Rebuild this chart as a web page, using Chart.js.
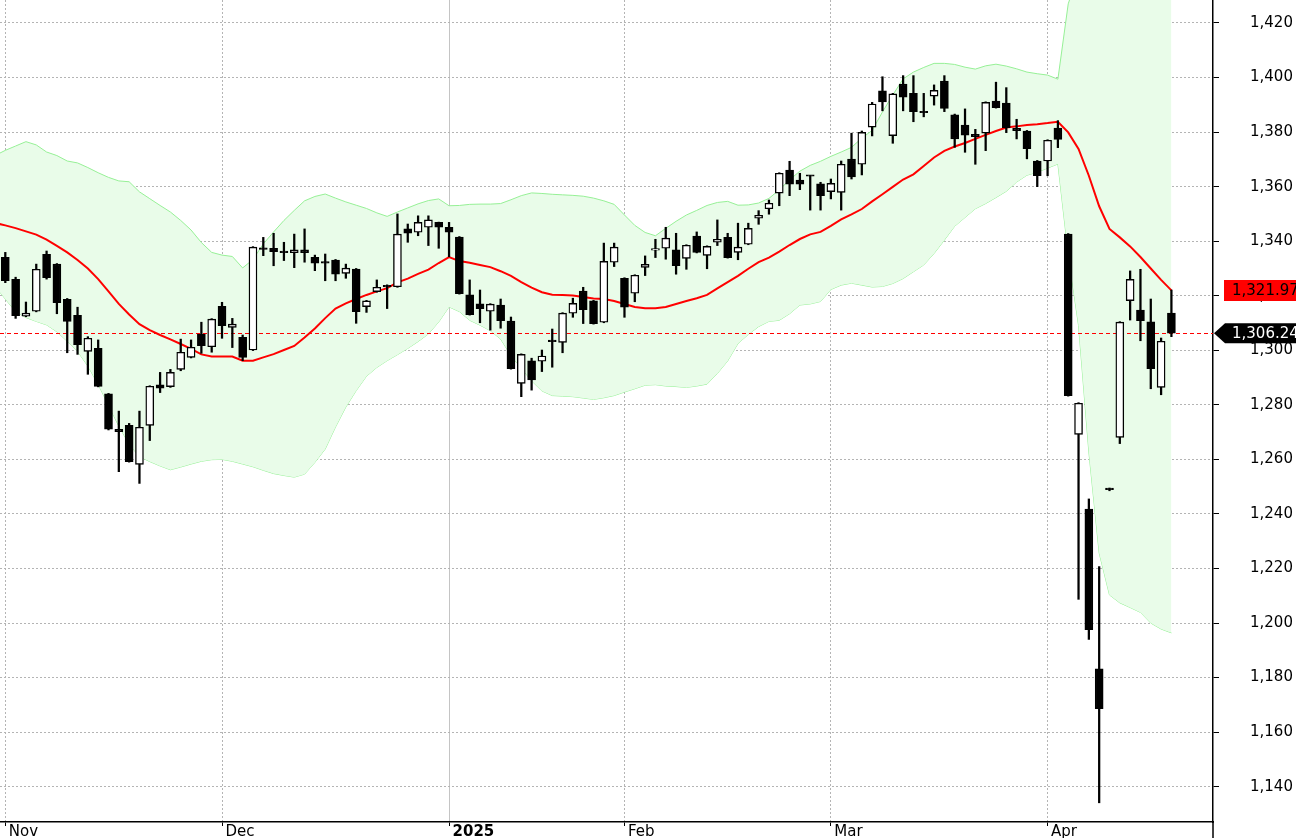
<!DOCTYPE html>
<html>
<head>
<meta charset="utf-8">
<title>Candles with Bollinger bands</title>
<script src="https://cdn.jsdelivr.net/npm/chart.js@4.4.0/dist/chart.umd.min.js"></script>
<style>
  html, body { margin: 0; padding: 0; background: #ffffff; }
  #wrap { width: 1296px; height: 838px; }
</style>
</head>
<body>
<div id="wrap"><canvas id="chart" width="1296" height="838"></canvas></div>
<script>
// one entry per session, early Nov 2024 .. mid Apr 2025
const opens = [
  1334.1, 1326.0, 1312.5, 1314.3, 1335.2, 1331.6, 1318.7, 1312.8, 1299.6, 1300.7,
  1284.0, 1271.0, 1272.5, 1258.2, 1272.5, 1287.3, 1286.7, 1293.0, 1297.4, 1305.9,
  1301.3, 1316.1, 1308.4, 1304.8, 1300.1, 1337.4, 1337.4, 1336.4, 1335.8, 1336.8,
  1334.1, 1332.5, 1333.1, 1328.2, 1329.8, 1316.0, 1321.5, 1323.8, 1323.3, 1344.5,
  1343.3, 1345.1, 1346.9, 1345.1, 1341.5, 1320.3, 1317.0, 1314.3, 1316.6, 1310.7,
  1287.9, 1296.1, 1296.0, 1303.7, 1302.9, 1313.6, 1321.7, 1318.1, 1310.3, 1332.3,
  1326.4, 1320.9, 1330.4, 1336.7, 1337.4, 1336.8, 1333.7, 1341.9, 1334.8, 1339.6,
  1341.4, 1335.9, 1338.9, 1348.4, 1351.9, 1357.6, 1366.1, 1362.4, 1364.0, 1361.0,
  1358.2, 1357.9, 1370.1, 1368.2, 1381.8, 1395.1, 1378.7, 1397.6, 1394.2, 1387.3,
  1393.2, 1398.7, 1386.3, 1382.6, 1379.2, 1379.6, 1391.4, 1390.6, 1381.4, 1380.4,
  1369.4, 1369.4, 1381.5, 1342.6, 1269.2, 1241.8, 1183.2, 1249.4, 1268.1, 1318.2,
  1314.7, 1310.4, 1286.4, 1313.6
];
const highs = [
  1335.9, 1326.8, 1317.7, 1331.6, 1336.4, 1331.8, 1319.0, 1315.8, 1305.0, 1303.8,
  1284.2, 1277.7, 1273.2, 1277.7, 1287.0, 1291.9, 1293.0, 1304.1, 1303.8, 1310.3,
  1311.6, 1317.6, 1311.7, 1305.6, 1338.0, 1341.4, 1342.9, 1339.6, 1342.6, 1344.5,
  1334.9, 1335.3, 1333.3, 1331.6, 1330.0, 1318.3, 1325.8, 1324.0, 1350.0, 1346.3,
  1349.3, 1349.3, 1347.0, 1346.9, 1341.7, 1325.8, 1322.1, 1317.1, 1318.8, 1312.2,
  1298.7, 1297.1, 1300.1, 1307.8, 1313.8, 1319.1, 1323.1, 1318.3, 1339.3, 1339.3,
  1326.6, 1327.7, 1334.6, 1340.7, 1345.1, 1342.9, 1338.7, 1343.4, 1338.3, 1347.8,
  1342.9, 1346.6, 1346.6, 1351.2, 1355.1, 1365.1, 1369.3, 1364.9, 1364.1, 1361.6,
  1362.8, 1369.4, 1379.6, 1380.4, 1390.9, 1400.3, 1394.2, 1400.7, 1400.7, 1394.2,
  1397.3, 1400.7, 1386.6, 1388.5, 1381.0, 1391.1, 1398.3, 1396.3, 1384.7, 1380.6,
  1369.6, 1377.2, 1384.2, 1342.8, 1280.8, 1245.5, 1220.7, 1249.5, 1310.5, 1329.1,
  1329.7, 1318.8, 1304.5, 1322.1
];
const lows = [
  1324.8, 1311.7, 1312.3, 1314.1, 1326.1, 1313.4, 1299.1, 1298.5, 1291.2, 1286.6,
  1270.8, 1255.5, 1259.0, 1251.2, 1266.9, 1284.5, 1286.4, 1292.5, 1297.2, 1298.9,
  1299.3, 1304.4, 1301.0, 1296.2, 1299.9, 1334.7, 1331.0, 1332.9, 1330.3, 1332.3,
  1329.2, 1325.5, 1325.5, 1326.4, 1309.9, 1313.9, 1321.3, 1315.3, 1323.1, 1339.6,
  1342.0, 1338.4, 1337.4, 1334.3, 1320.6, 1312.9, 1310.1, 1307.4, 1308.1, 1293.1,
  1283.0, 1285.4, 1292.2, 1293.8, 1299.1, 1312.1, 1309.8, 1309.6, 1310.1, 1330.7,
  1312.1, 1317.8, 1327.4, 1334.0, 1333.4, 1327.9, 1329.7, 1335.7, 1329.9, 1338.4,
  1333.8, 1333.2, 1338.7, 1346.2, 1349.9, 1353.0, 1356.7, 1358.9, 1351.4, 1351.4,
  1355.5, 1351.4, 1362.8, 1364.3, 1378.6, 1387.8, 1375.9, 1387.8, 1383.8, 1385.6,
  1389.9, 1387.5, 1374.4, 1372.6, 1368.2, 1373.2, 1388.8, 1379.8, 1377.5, 1370.2,
  1360.0, 1364.0, 1374.3, 1283.2, 1208.7, 1194.0, 1134.1, 1248.5, 1265.8, 1311.1,
  1303.5, 1285.9, 1283.7, 1305.0
];
const closes = [
  1325.5, 1312.7, 1313.6, 1329.7, 1326.6, 1317.5, 1310.6, 1302.1, 1304.4, 1286.8,
  1271.1, 1270.2, 1259.2, 1271.8, 1286.8, 1286.1, 1291.9, 1299.3, 1301.1, 1301.7,
  1311.4, 1309.0, 1309.6, 1297.4, 1337.8, 1337.0, 1336.2, 1335.8, 1336.8, 1335.8,
  1331.9, 1331.9, 1327.9, 1330.1, 1314.2, 1318.1, 1323.1, 1323.2, 1342.6, 1342.9,
  1346.9, 1347.8, 1345.1, 1343.3, 1320.8, 1313.1, 1315.3, 1316.9, 1310.9, 1293.3,
  1298.5, 1289.1, 1297.9, 1303.2, 1313.6, 1317.2, 1314.9, 1309.8, 1332.6, 1337.8,
  1315.8, 1327.5, 1331.5, 1336.9, 1341.1, 1331.0, 1338.5, 1335.9, 1338.1, 1340.7,
  1334.0, 1337.8, 1344.7, 1349.5, 1353.9, 1364.9, 1360.9, 1360.9, 1363.8, 1356.7,
  1361.2, 1368.2, 1363.6, 1379.9, 1390.3, 1391.1, 1394.0, 1392.8, 1387.5, 1387.1,
  1395.3, 1388.7, 1377.5, 1378.9, 1378.3, 1390.9, 1389.0, 1381.6, 1380.5, 1373.9,
  1364.0, 1377.0, 1377.3, 1283.4, 1280.6, 1197.6, 1168.6, 1248.9, 1310.3, 1326.0,
  1310.9, 1293.3, 1303.3, 1306.24
];

// 20-day average and its bands; the first value belongs to the session before the first candle
const smaLine = [
  1346.7,
  1345.8, 1344.8, 1343.6, 1342.4, 1340.6, 1338.3, 1335.9, 1333.1, 1330.0, 1326.1,
  1321.6, 1317.0, 1313.1, 1309.6, 1307.4, 1305.6, 1304.0, 1302.3, 1300.5, 1298.5,
  1297.7, 1297.7, 1297.7, 1296.2, 1296.2, 1297.4, 1298.6, 1300.1, 1301.6, 1304.7,
  1308.0, 1311.8, 1315.3, 1317.2, 1318.8, 1320.3, 1321.6, 1322.8, 1324.9, 1326.3,
  1328.0, 1329.6, 1332.0, 1334.2, 1332.7, 1332.1, 1331.3, 1330.5, 1329.0, 1327.3,
  1325.0, 1323.0, 1321.3, 1320.4, 1320.3, 1320.1, 1319.5, 1319.0, 1318.8, 1318.1,
  1317.0, 1315.9, 1315.4, 1315.4, 1315.9, 1317.0, 1318.1, 1319.1, 1320.3, 1322.7,
  1325.0, 1327.3, 1329.9, 1332.3, 1334.0, 1336.2, 1338.6, 1340.8, 1342.5, 1343.4,
  1345.6, 1348.0, 1349.8, 1351.8, 1354.6, 1357.2, 1359.9, 1362.6, 1364.5, 1367.6,
  1370.7, 1373.1, 1374.7, 1376.0, 1377.5, 1379.0, 1380.4, 1381.7, 1382.1, 1382.6,
  1382.9, 1383.3, 1383.8, 1379.9, 1373.8, 1364.0, 1352.8, 1344.5, 1341.4, 1338.1,
  1334.2, 1330.0, 1325.8, 1321.97
];
const upperBand = [
  1371.4,
  1373.3, 1374.9, 1376.5, 1375.3, 1372.7, 1371.4, 1369.4, 1368.7, 1367.0, 1365.1,
  1363.4, 1362.1, 1361.8, 1358.1, 1355.6, 1353.1, 1350.7, 1347.6, 1344.1, 1339.5,
  1335.9, 1334.9, 1334.4, 1330.2, 1333.3, 1339.0, 1343.4, 1347.6, 1351.3, 1354.8,
  1356.4, 1357.3, 1355.8, 1354.4, 1353.2, 1352.0, 1350.4, 1349.1, 1350.7, 1352.2,
  1353.7, 1354.9, 1355.5, 1353.0, 1353.1, 1353.5, 1353.6, 1353.6, 1353.8, 1355.2,
  1356.7, 1357.7, 1357.5, 1357.2, 1357.0, 1356.8, 1356.5, 1355.8, 1354.8, 1353.5,
  1349.6, 1345.8, 1343.2, 1342.0, 1344.7, 1347.3, 1349.6, 1351.3, 1353.1, 1354.2,
  1354.6, 1353.2, 1353.3, 1354.0, 1355.7, 1358.8, 1362.5, 1365.7, 1367.8, 1369.3,
  1371.1, 1372.7, 1374.4, 1377.8, 1380.6, 1387.4, 1393.6, 1399.5, 1402.0, 1403.7,
  1405.2, 1405.2, 1404.8, 1403.8, 1403.1, 1404.3, 1404.9, 1404.2, 1403.2, 1402.0,
  1401.4, 1400.9, 1399.4, 1427.0, 1438.5, 1465.3, 1479.9, 1478.7, 1475.4, 1470.5,
  1464.5, 1460.0, 1453.8, 1447.5
];
const lowerBand = [
  1323.6,
  1318.8, 1314.2, 1312.0, 1310.6, 1309.3, 1306.8, 1303.3, 1299.6, 1294.2, 1287.5,
  1279.9, 1272.2, 1265.6, 1261.0, 1259.2, 1257.6, 1256.2, 1257.2, 1258.3, 1259.3,
  1259.9, 1260.0, 1259.3, 1258.3, 1257.3, 1256.0, 1254.8, 1254.1, 1253.5, 1254.6,
  1258.9, 1263.8, 1271.9, 1279.2, 1285.2, 1290.5, 1293.7, 1296.2, 1298.4, 1300.7,
  1303.2, 1306.0, 1310.4, 1315.9, 1314.2, 1311.0, 1309.2, 1307.2, 1304.1, 1298.1,
  1293.4, 1288.8, 1285.1, 1283.4, 1283.2, 1283.0, 1282.5, 1282.0, 1282.6, 1283.4,
  1284.7, 1285.9, 1287.2, 1287.4, 1286.9, 1286.7, 1286.4, 1286.9, 1287.6, 1291.5,
  1296.1, 1302.5, 1305.8, 1308.7, 1310.6, 1311.0, 1313.4, 1316.6, 1317.0, 1317.9,
  1322.3, 1323.9, 1324.6, 1323.9, 1323.2, 1323.4, 1324.5, 1326.3, 1328.8, 1331.3,
  1335.5, 1340.4, 1345.5, 1348.7, 1351.9, 1353.8, 1356.0, 1358.3, 1361.7, 1364.2,
  1365.3, 1366.8, 1368.3, 1335.3, 1309.1, 1262.7, 1225.7, 1210.3, 1207.4, 1205.7,
  1203.9, 1200.0, 1197.8, 1196.4
];

// session index where each month starts
const monthTicks = [0, 21, 43, 60, 80, 101];
const monthLabels = ["Nov", "Dec", "2025", "Feb", "Mar", "Apr"];
const priceTicks = [1140, 1160, 1180, 1200, 1220, 1240, 1260, 1280, 1300, 1320, 1340, 1360, 1380, 1400, 1420];

const FONT = "'DejaVu Sans', Verdana, sans-serif";

function fmt(v, digits) {
    return v.toLocaleString("en-US", { minimumFractionDigits: digits, maximumFractionDigits: digits });
}

// overlay series carry one extra leading value, so they start at index -1
function overlay(values) {
    return values.map((v, i) => ({ x: i - 1, y: v }));
}

// ===============================
// Last-price line and axis tags
// ===============================
const priceTags = {
    id: "priceTags",
    afterDatasetDraw(chart, args) {
        if (args.index !== 2) return;
        const { ctx, chartArea, scales } = chart;
        const y = Math.round(scales.y.getPixelForValue(closes[closes.length - 1])) + 0.5;
        ctx.save();
        ctx.globalAlpha = 1;
        ctx.strokeStyle = "#ff0000";
        ctx.lineWidth = 1;
        ctx.setLineDash([4, 3]);
        ctx.beginPath();
        ctx.moveTo(chartArea.left, y);
        ctx.lineTo(chartArea.right, y);
        ctx.stroke();
        ctx.restore();
    },
    afterDraw(chart) {
        const { ctx, chartArea, scales } = chart;
        const w = chart.width;
        const right = chartArea.right;
        ctx.save();

        // price axis line runs on to the bottom edge
        ctx.strokeStyle = "#000000";
        ctx.lineWidth = 1.5;
        ctx.beginPath();
        ctx.moveTo(right, chartArea.bottom);
        ctx.lineTo(right, chart.height);
        ctx.stroke();

        ctx.font = "15px " + FONT;
        ctx.textBaseline = "middle";
        ctx.textAlign = "left";

        // average value
        const smaLast = smaLine[smaLine.length - 1];
        const ys = scales.y.getPixelForValue(smaLast);
        ctx.fillStyle = "#ff0000";
        ctx.fillRect(right + 11, Math.round(ys - 10.5), w - right - 11, 21);
        ctx.fillStyle = "#000000";
        ctx.fillText(fmt(smaLast, 2), right + 19, ys + 1);

        // last close
        const lastClose = closes[closes.length - 1];
        const yc = scales.y.getPixelForValue(lastClose);
        ctx.fillStyle = "#000000";
        ctx.beginPath();
        ctx.moveTo(right + 1, yc);
        ctx.lineTo(right + 12, yc - 10);
        ctx.lineTo(w, yc - 10);
        ctx.lineTo(w, yc + 10);
        ctx.lineTo(right + 12, yc + 10);
        ctx.closePath();
        ctx.fill();
        ctx.fillStyle = "#ffffff";
        ctx.fillText(fmt(lastClose, 2), right + 19, yc + 1);
        ctx.restore();
    }
};

// ===============================
// Chart
// ===============================
const candleIdx = opens.map((_, i) => i);

new Chart(document.getElementById("chart"), {
    data: {
        datasets: [
            {
                type: "line",
                label: "Upper band",
                data: overlay(upperBand),
                borderColor: "#96f096",
                borderWidth: 1,
                backgroundColor: "#e9fce9",
                fill: "+1",
                pointRadius: 0,
                tension: 0,
                order: 3
            },
            {
                type: "line",
                label: "Lower band",
                data: overlay(lowerBand),
                borderColor: "#96f096",
                borderWidth: 1,
                fill: false,
                pointRadius: 0,
                tension: 0,
                order: 3
            },
            {
                type: "line",
                label: "Average",
                data: overlay(smaLine),
                borderColor: "#ff0000",
                borderWidth: 2,
                fill: false,
                pointRadius: 0,
                tension: 0,
                order: 2
            },
            {
                type: "bar",
                label: "Range",
                data: candleIdx.map(i => ({ x: i, y: [lows[i], highs[i]] })),
                backgroundColor: "#000000",
                borderWidth: 0,
                barThickness: 1.6,
                grouped: false,
                order: 1
            },
            {
                type: "bar",
                label: "Body",
                data: candleIdx.map(i => ({ x: i, y: [opens[i], closes[i]] })),
                backgroundColor: ctx => closes[ctx.dataIndex] >= opens[ctx.dataIndex] ? "#ffffff" : "#000000",
                borderColor: "#000000",
                borderWidth: 1.4,
                borderSkipped: false,
                barThickness: 8,
                minBarLength: 1.5,
                grouped: false,
                order: 0
            }
        ]
    },
    options: {
        responsive: false,
        animation: false,
        events: [],
        layout: { padding: 0 },
        plugins: {
            legend: { display: false },
            tooltip: { enabled: false }
        },
        scales: {
            x: {
                type: "linear",
                position: "bottom",
                offset: false,
                min: -0.514,
                max: 117.03,
                afterBuildTicks: scale => { scale.ticks = monthTicks.map(v => ({ value: v })); },
                afterFit: scale => {
                    scale.height = 16;
                    scale.paddingLeft = 0;
                    scale.paddingRight = 0;
                },
                grid: {
                    offset: false,
                    color: ctx => (ctx.tick && ctx.tick.value === 43) ? "#c4c4c4" : "#b4b4b4",
                    lineWidth: 1,
                    drawTicks: true,
                    tickLength: 4,
                    tickColor: "#000000",
                    tickWidth: 1
                },
                border: {
                    display: true,
                    color: "#000000",
                    width: 1.5,
                    dash: ctx => (ctx.tick && ctx.tick.value === 43) ? [] : [2, 2]
                },
                ticks: {
                    autoSkip: false,
                    maxRotation: 0,
                    align: "start",
                    labelOffset: 3.5,
                    padding: -3,
                    color: "#000000",
                    font: ctx => ({ family: FONT, size: 15, weight: (ctx.tick && ctx.tick.value === 43) ? "bold" : "normal" }),
                    callback: value => monthLabels[monthTicks.indexOf(value)] || ""
                }
            },
            y: {
                type: "linear",
                position: "right",
                min: 1127.06,
                max: 1428.43,
                afterBuildTicks: scale => { scale.ticks = priceTicks.map(v => ({ value: v })); },
                afterFit: scale => {
                    scale.width = 83;
                    scale.paddingTop = 0;
                    scale.paddingBottom = 0;
                },
                grid: {
                    color: "#b4b4b4",
                    lineWidth: 1,
                    drawTicks: true,
                    tickLength: 6,
                    tickColor: "#000000",
                    tickWidth: 1
                },
                border: {
                    display: true,
                    color: "#000000",
                    width: 1.5,
                    dash: [2, 2]
                },
                ticks: {
                    crossAlign: "near",
                    padding: 31,
                    color: "#000000",
                    font: { family: FONT, size: 15 },
                    callback: value => fmt(value, 0)
                }
            }
        }
    },
    plugins: [priceTags]
});
</script>
</body>
</html>
